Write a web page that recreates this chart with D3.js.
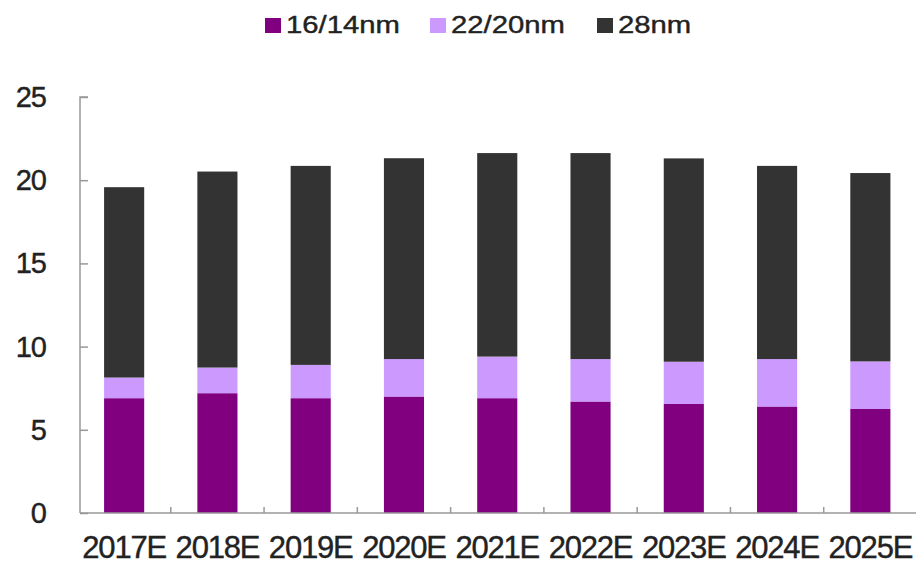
<!DOCTYPE html>
<html>
<head>
<meta charset="utf-8">
<script src="https://cdn.jsdelivr.net/npm/d3@7"></script>
<style>
  html, body { margin: 0; padding: 0; background: #fff; }
  svg { display: block; }
  text { font-family: "Liberation Sans", Arial, sans-serif; fill: #222; stroke: #222; stroke-width: 0.4px; }
</style>
</head>
<body>
<svg id="chart" width="916" height="566"></svg>
<script>
const categories = ["2017E","2018E","2019E","2020E","2021E","2022E","2023E","2024E","2025E"];
const seriesNames = ["16/14nm","22/20nm","28nm"];
const s16 = [6.9, 7.2, 6.9, 7.0, 6.9, 6.7, 6.55, 6.4, 6.25];
const s22 = [1.24, 1.54, 2.0, 2.25, 2.5, 2.55, 2.54, 2.85, 2.86];
const s28 = [11.44, 11.78, 11.96, 12.07, 12.23, 12.38, 12.22, 11.61, 11.32];
const yTicks = [0, 5, 10, 15, 20, 25];
const colors = ["#800080", "#CC99FF", "#333333"];

const svg = d3.select("#chart");
const rows = categories.map((c, i) => ({cat: c, "16/14nm": s16[i], "22/20nm": s22[i], "28nm": s28[i]}));
const stacked = d3.stack().keys(seriesNames)(rows);

const x = d3.scaleBand().domain(categories).range([77.5, 917]).paddingInner(0.57).paddingOuter(0.285);
const xb = d3.scaleBand().domain(categories).range([77.5, 917]);
const y = d3.scaleLinear().domain([0, 25]).range([513, 97]);

// bars
svg.append("g").selectAll("g").data(stacked).join("g")
  .attr("fill", (d, i) => colors[i])
  .selectAll("rect").data(d => d).join("rect")
  .attr("x", d => x(d.data.cat))
  .attr("width", x.bandwidth())
  .attr("y", d => y(d[1]))
  .attr("height", d => y(d[0]) - y(d[1]));

// y axis
const yAxis = svg.append("g").attr("transform", "translate(80,0)")
  .call(d3.axisRight(y).tickValues(yTicks).tickSize(8).tickFormat(""));
yAxis.selectAll("path,line").attr("stroke", "#999").attr("stroke-width", 1.5);
yAxis.select(".domain").attr("d", `M8,${y(25)}H0V${y(0)}`);
svg.append("g").selectAll("text").data(yTicks).join("text")
  .attr("x", 46).attr("y", d => y(d) + 10)
  .attr("text-anchor", "end")
  .style("font-size", "29px").style("letter-spacing", "-1px")
  .text(d => d);

// x axis
svg.append("line").attr("x1", 80).attr("x2", 916).attr("y1", y(0)).attr("y2", y(0))
  .attr("stroke", "#999").attr("stroke-width", 1.5);
svg.append("g").selectAll("line").data(categories.slice(1)).join("line")
  .attr("x1", d => xb(d)).attr("x2", d => xb(d))
  .attr("y1", y(0)).attr("y2", y(0) - 6)
  .attr("stroke", "#999").attr("stroke-width", 1.5);
svg.append("g").selectAll("text").data(categories).join("text")
  .attr("x", d => xb(d) + xb.bandwidth() / 2)
  .attr("y", 558)
  .attr("text-anchor", "middle")
  .style("font-size", "31px").style("letter-spacing", "-1.2px")
  .text(d => d);

// legend
const legendX = [265, 430, 597];
const lg = svg.append("g").selectAll("g").data(seriesNames).join("g")
  .attr("transform", (d, i) => `translate(${legendX[i]},0)`);
lg.append("rect").attr("x", 0).attr("y", 18).attr("width", 16).attr("height", 15)
  .attr("fill", (d, i) => colors[i]);
lg.append("text")
  .attr("transform", "translate(21,33) scale(1.22,1)")
  .style("font-size", "24px")
  .text(d => d);
</script>
</body>
</html>
